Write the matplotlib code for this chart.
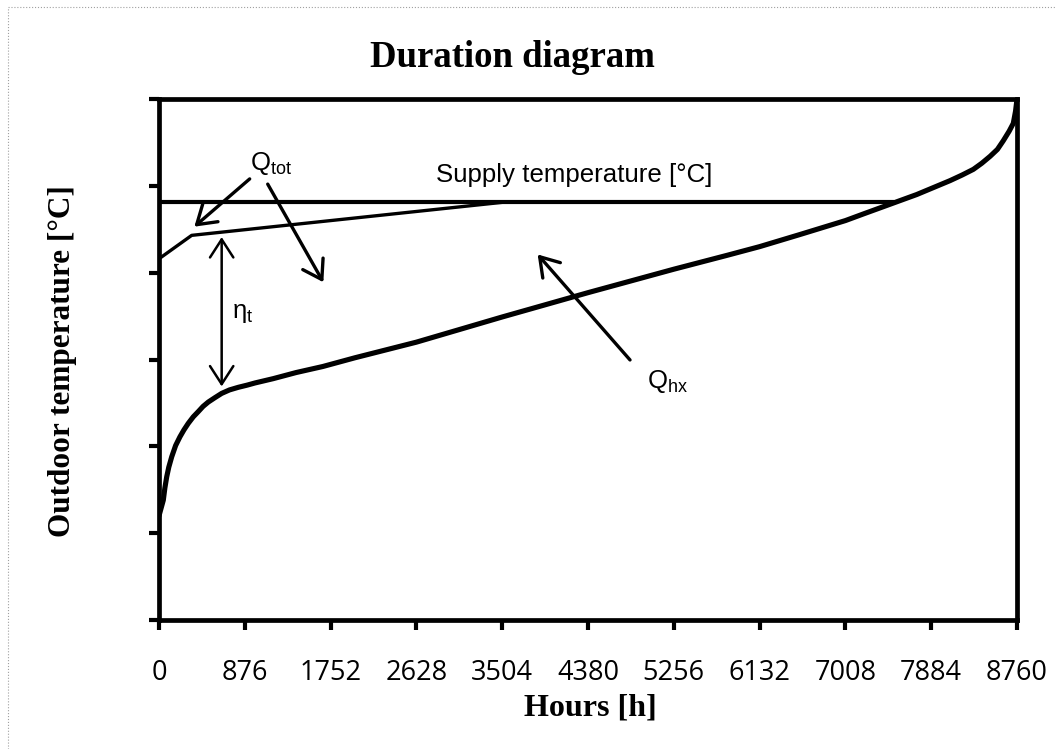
import matplotlib
matplotlib.use("Agg")
import matplotlib.pyplot as plt
from matplotlib.lines import Line2D

plt.rcParams['mathtext.fontset'] = 'custom'
plt.rcParams['mathtext.rm'] = 'Liberation Sans'
plt.rcParams['mathtext.it'] = 'Liberation Sans:italic'

# duration curve of the heat exchanger (hours, temperature)
hx_hours = [0, 22, 44, 60, 79, 100, 130, 170, 214, 255, 299, 350, 401, 450, 503,
            570, 640, 720, 810, 900, 980, 1167, 1400, 1674, 2000, 2628, 3504,
            4380, 5256, 5800, 6132, 6545, 7008, 7200, 7395, 7736, 8076, 8200,
            8314, 8400, 8485, 8560, 8620, 8680, 8722, 8745, 8760]
hx_temp = [12.0, 12.9, 13.8, 15.2, 16.5, 17.6, 18.8, 20.1, 21.1, 21.9, 22.65, 23.4,
           24.0, 24.6, 25.1, 25.6, 26.1, 26.5, 26.8, 27.05, 27.3, 27.8, 28.5, 29.2,
           30.2, 32.0, 34.9, 37.7, 40.4, 42.0, 43.0, 44.4, 46.0, 46.8, 47.6, 49.0,
           50.6, 51.25, 51.9, 52.6, 53.4, 54.2, 55.2, 56.3, 57.2, 58.6, 60.0]

# total line
tot_hours = [0, 334, 3504]
tot_temp = [41.6, 44.3, 48.1]

# supply temperature
supply_hours = [0, 7480]
supply_temp = [48.1, 48.1]

x_ticks = [0, 876, 1752, 2628, 3504, 4380, 5256, 6132, 7008, 7884, 8760]
y_ticks = [0, 10, 20, 30, 40, 50, 60]

fig = plt.figure(figsize=(10.55, 7.49), dpi=100)
ax = fig.add_axes([0.1507, 0.1722, 0.8133, 0.6956])

ax.plot(hx_hours, hx_temp, color='black', lw=3.7, solid_capstyle='round',
        solid_joinstyle='round')
ax.plot(tot_hours, tot_temp, color='black', lw=2.4)
ax.plot(supply_hours, supply_temp, color='black', lw=3.0)

ax.set_xlim(0, 8760)
ax.set_ylim(0, 60)
ax.set_xticks(x_ticks)
ax.set_xticklabels([str(t) for t in x_ticks], fontfamily='Open Sans', fontsize=19.5)
ax.set_yticks(y_ticks)
ax.set_yticklabels([])
ax.tick_params(axis='both', direction='out', length=7, width=3, color='black')
ax.tick_params(axis='x', pad=21)
for s in ax.spines.values():
    s.set_linewidth(3.4)
    s.set_color('black')

# annotations
head = '->,head_length=0.65,head_width=0.42'
ax.annotate('', xy=(361, 45.3), xytext=(926, 50.8),
            arrowprops=dict(arrowstyle=head, lw=2.4, color='black',
                            mutation_scale=20, shrinkA=0, shrinkB=0))
ax.annotate('', xy=(1678, 38.9), xytext=(1110, 50.2),
            arrowprops=dict(arrowstyle=head, lw=2.4, color='black',
                            mutation_scale=20, shrinkA=0, shrinkB=0))
ax.annotate('', xy=(3866, 42.1), xytext=(4809, 29.95),
            arrowprops=dict(arrowstyle=head, lw=2.4, color='black',
                            mutation_scale=20, shrinkA=0, shrinkB=0))
ax.annotate('', xy=(640, 26.9), xytext=(640, 44.1),
            arrowprops=dict(arrowstyle='<->,head_length=0.65,head_width=0.42',
                            lw=1.8, color='black', mutation_scale=20,
                            shrinkA=0, shrinkB=0))

ax.text(929, 51.8, r'Q$_\mathrm{tot}$', fontfamily='Liberation Sans', fontsize=18.5,
        ha='left', va='baseline')
ax.text(4979, 26.7, r'Q$_\mathrm{hx}$', fontfamily='Liberation Sans', fontsize=18.5,
        ha='left', va='baseline')
ax.text(742, 34.8, r'η$_\mathrm{t}$', fontfamily='Liberation Sans', fontsize=18.5,
        ha='left', va='baseline')
ax.text(4237, 50.5, 'Supply temperature [°C]', fontfamily='Liberation Sans',
        fontsize=18.6, ha='center', va='baseline')

fig.text(512 / 1055, 1 - 67 / 749, 'Duration diagram', fontfamily='Liberation Serif',
         fontweight='bold', fontsize=26.5, ha='center', va='baseline')
fig.text(590 / 1055, 1 - 716 / 749, 'Hours [h]', fontfamily='Liberation Serif',
         fontweight='bold', fontsize=23, ha='center', va='baseline')
fig.text(63 / 1055, 1 - 361 / 749, 'Outdoor temperature [°C]',
         fontfamily='Liberation Serif', fontweight='bold', fontsize=22.5,
         rotation=90, ha='center', va='center')

# thin frame around the picture
fig.add_artist(Line2D([8 / 1055, 1.0], [1 - 7 / 749, 1 - 7 / 749],
                      transform=fig.transFigure, color='#a0a0a0', lw=0.8, ls=':'))
fig.add_artist(Line2D([8 / 1055, 8 / 1055], [0.0, 1 - 7 / 749],
                      transform=fig.transFigure, color='#a0a0a0', lw=0.8, ls=':'))

fig.savefig('out.png', dpi=100)
